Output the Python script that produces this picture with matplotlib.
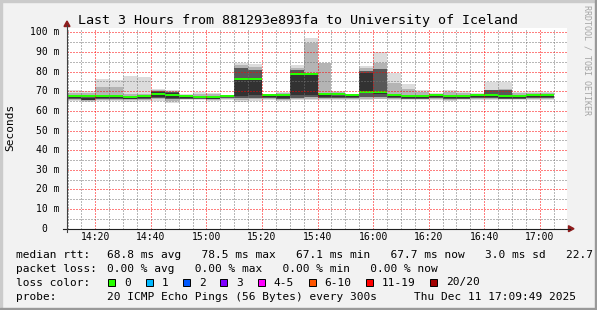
import matplotlib
matplotlib.use("Agg")
import matplotlib.pyplot as plt
from matplotlib.patches import Rectangle, Polygon
from matplotlib.lines import Line2D

# smokeping graph, last 3 hours, one bar every 5 minutes (left edge, minutes after midnight)
bar_start = list(range(14 * 60 + 10, 17 * 60 + 5, 5))

# smoke layers (lo, hi) in ms, outermost first
layer_outer = [(64.8, 70.4), (64.5, 70.0), (64.8, 76.0), (64.8, 75.5), (64.5, 77.8), (64.8, 77.2),
               (65.2, 71.0), (64.2, 70.7), (65.3, 68.5), (65.3, 69.4), (65.0, 68.9), (65.5, 68.3),
               (64.5, 84.3), (65.0, 83.8), (65.3, 68.8), (65.0, 69.7), (65.3, 83.3), (65.5, 97.0),
               (65.3, 84.4), (65.3, 70.3), (65.5, 68.6), (65.5, 82.6), (65.8, 90.1), (65.5, 79.5),
               (65.3, 73.5), (65.3, 70.4), (65.5, 69.2), (65.0, 70.4), (65.3, 70.1), (65.5, 69.2),
               (65.5, 74.5), (65.3, 74.8), (65.5, 69.6), (65.5, 70.1), (65.5, 69.6)]
layer_mid = [(65.5, 69.3), (65.0, 69.0), (65.5, 72.0), (65.5, 72.0), (65.3, 68.5), (65.5, 68.5),
             (65.8, 70.6), (65.0, 70.3), (65.8, 68.0), (65.8, 68.8), (65.5, 68.4), (66.0, 68.0),
             (65.5, 83.3), (65.8, 82.5), (65.8, 68.5), (65.5, 69.0), (65.8, 81.8), (66.0, 94.4),
             (65.8, 84.2), (65.8, 69.5), (66.0, 68.3), (66.0, 81.8), (66.3, 84.6), (66.0, 74.4),
             (65.8, 71.2), (65.8, 69.5), (66.0, 68.8), (65.5, 69.5), (65.8, 69.3), (66.0, 68.7),
             (66.0, 70.8), (65.8, 71.0), (66.0, 69.0), (66.0, 69.3), (66.0, 69.0)]
layer_dark = [(66.3, 68.0), (65.3, 67.2), (66.3, 67.6), (66.3, 67.6), (65.8, 67.0), (66.2, 67.4),
              (66.5, 70.3), (65.8, 69.8), (66.3, 67.6), (66.3, 67.5), (65.9, 67.0), (66.5, 67.6),
              (66.8, 81.6), (66.8, 80.8), (66.5, 68.0), (66.3, 68.0), (66.5, 80.7), (67.0, 79.5),
              (66.5, 68.2), (66.5, 68.0), (66.5, 67.7), (67.0, 80.3), (67.0, 81.2), (66.8, 68.3),
              (66.3, 67.8), (66.3, 67.7), (66.5, 67.9), (66.0, 67.3), (66.3, 67.8), (66.5, 67.8),
              (66.5, 70.6), (66.3, 70.6), (66.3, 67.5), (66.5, 67.8), (66.5, 67.8)]
layer_core = [(66.8, 67.4), (65.6, 66.8), (66.7, 67.2), (66.8, 67.2), (66.1, 66.6), (66.6, 67.1),
              (67.3, 69.8), (66.5, 69.2), (66.6, 67.1), (66.7, 67.1), (66.2, 66.7), (66.9, 67.3),
              (67.8, 76.2), (68.0, 76.2), (67.0, 67.6), (66.8, 67.6), (68.2, 78.9), (68.2, 78.9),
              (67.2, 67.9), (67.0, 67.6), (67.0, 67.4), (69.0, 79.5), (68.8, 70.2), (67.3, 67.9),
              (66.8, 67.3), (66.8, 67.2), (67.0, 67.5), (66.5, 67.0), (66.8, 67.4), (67.0, 67.5),
              (67.0, 68.3), (66.5, 67.3), (66.5, 67.1), (67.0, 67.5), (67.0, 67.5)]
median = [67.6, 67.5, 67.5, 67.5, 66.9, 67.4, 68.7, 68.1, 67.6, 67.2, 67.2, 67.7,
          76.1, 76.1, 68.0, 68.0, 78.9, 78.9, 68.6, 68.6, 67.9, 69.6, 69.6, 68.0,
          67.5, 67.4, 68.0, 67.5, 67.8, 68.0, 67.9, 67.8, 67.8, 68.0, 68.0]

title = "Last 3 Hours from 881293e893fa to University of Iceland"
rtt_text = "68.8 ms avg   78.5 ms max   67.1 ms min   67.7 ms now   3.0 ms sd   22.7"
loss_text = "0.00 % avg   0.00 % max   0.00 % min   0.00 % now"
probe_text = "20 ICMP Echo Pings (56 Bytes) every 300s"
date_text = "Thu Dec 11 17:09:49 2025"
loss_labels = ["0", "1", "2", "3", "4-5", "6-10", "11-19", "20/20"]
loss_colors = ["#26ff00", "#00b8ff", "#0059ff", "#7e00ff", "#ff00ff", "#ff5500", "#ff0000", "#a10000"]

W, H = 597, 310
MONO = "DejaVu Sans Mono"


def fx(px):
    return px / W


def fy(py):
    return 1 - py / H


fig = plt.figure(figsize=(W / 100, H / 100), dpi=100, facecolor="#f2f2f2")
ax = fig.add_axes([fx(67), fy(228.7), 500 / W, 200.7 / H], facecolor="white")

# smoke
for lay, col in [(layer_outer, "#dcdcdc"), (layer_mid, "#b4b4b4"),
                 (layer_dark, "#585858"), (layer_core, "#323232")]:
    lo = [a for a, b in lay]
    hh = [b - a for a, b in lay]
    ax.bar(bar_start, hh, width=5, bottom=lo, align="edge", color=col,
           linewidth=0, antialiased=False, zorder=1)

# median, as a thin band like smokeping does
ax.bar(bar_start, 1.0, width=5, bottom=[m - 0.5 for m in median], align="edge",
       color="#26ff00", linewidth=0, antialiased=False, zorder=2)

x0 = 14 * 60 + 9 + 49 / 60
ax.set_xlim(x0, x0 + 180)
ax.set_ylim(0, 102.2)

major_x = list(range(14 * 60 + 20, 17 * 60 + 1, 20))
minor_x = [m for m in range(14 * 60 + 10, 17 * 60 + 10, 5) if m not in major_x]
ax.set_xticks(major_x)
ax.set_xticks(minor_x, minor=True)
ax.set_xticklabels(["%d:%02d" % (m // 60, m % 60) for m in major_x], fontsize=7, family=MONO)
ax.set_yticks(range(0, 101, 10))
ax.set_yticks(range(5, 101, 10), minor=True)
ax.set_yticklabels([])
ax.tick_params(which="both", length=0)
ax.tick_params(axis="x", pad=2.4)
ax.set_axisbelow(False)
ax.grid(which="major", color=(1, 0, 0, 0.24), linestyle=(0, (1, 2)), linewidth=0.72)
ax.grid(which="minor", color=(0.45, 0.45, 0.45, 0.3), linestyle=(0, (1, 2)), linewidth=0.72)
for s in ax.spines.values():
    s.set_visible(False)

# y labels, right aligned like rrdtool
ytr = ax.get_yaxis_transform()
for v in range(0, 101, 10):
    lab = "%d m" % v if v else "0"
    xr = (59.3 - 67) / 500 if v else (47 - 67) / 500
    ax.text(xr, v, lab, transform=ytr, ha="right", va="center", fontsize=7, family=MONO)

# axes with arrows
fig.add_artist(Line2D([fx(63), fx(570)], [fy(228.7), fy(228.7)], color="#202020", lw=0.8))
fig.add_artist(Line2D([fx(67), fx(67)], [fy(232), fy(25)], color="#404040", lw=0.8))
fig.add_artist(Polygon([(fx(574), fy(228.7)), (fx(568.5), fy(225.7)), (fx(568.5), fy(231.7))],
                       closed=True, color="#8e1c1c", transform=fig.transFigure))
fig.add_artist(Polygon([(fx(67), fy(21)), (fx(64), fy(26.5)), (fx(70), fy(26.5))],
                       closed=True, color="#8e1c1c", transform=fig.transFigure))

fig.text(0.5, fy(24), title, ha="center", va="baseline", fontsize=9.6, family=MONO)
fig.text(fx(10.5), fy(127), "Seconds", rotation=90, ha="center", va="center", fontsize=8, family=MONO)
fig.text(fx(586.5), fy(60), "RRDTOOL / TOBI OETIKER", rotation=270, ha="center", va="center",
         fontsize=6, family=MONO, color="#a4a4a4")

# legend
rows = [258, 272, 285.5, 299.5]
fig.text(fx(16), fy(rows[0]), "median rtt:", fontsize=8, family=MONO, va="baseline")
fig.text(fx(107.3), fy(rows[0]), rtt_text, fontsize=8, family=MONO, va="baseline")
fig.text(fx(16), fy(rows[1]), "packet loss:", fontsize=8, family=MONO, va="baseline")
fig.text(fx(107.3), fy(rows[1]), loss_text, fontsize=8, family=MONO, va="baseline")
fig.text(fx(16), fy(rows[2]), "loss color:", fontsize=8, family=MONO, va="baseline")
fig.text(fx(16), fy(rows[3]), "probe:", fontsize=8, family=MONO, va="baseline")
fig.text(fx(107.3), fy(rows[3]), probe_text, fontsize=8, family=MONO, va="baseline")
fig.text(fx(413.7), fy(rows[3]), date_text, fontsize=8, family=MONO, va="baseline")

xs = 108.3
for lab, col in zip(loss_labels, loss_colors):
    fig.add_artist(Rectangle((fx(xs), fy(286.3)), 7 / W, 7 / H, facecolor=col,
                             edgecolor="black", linewidth=0.7, transform=fig.transFigure))
    fig.text(fx(xs + 16), fy(rows[2]), lab, fontsize=8, family=MONO, va="baseline")
    xs += 16 + len(lab) * 6.69 + 14.7

# frame shading
fig.add_artist(Rectangle((0, fy(2)), 1, 2 / H, color="#cbcbcb", transform=fig.transFigure))
fig.add_artist(Rectangle((0, 0), 2 / W, 1, color="#cbcbcb", transform=fig.transFigure))
fig.add_artist(Rectangle((0, 0), 1, 2 / H, color="#999999", transform=fig.transFigure))
fig.add_artist(Rectangle((fx(595), 0), 2 / W, 1, color="#999999", transform=fig.transFigure))

fig.savefig("out.png", dpi=100, facecolor=fig.get_facecolor())
